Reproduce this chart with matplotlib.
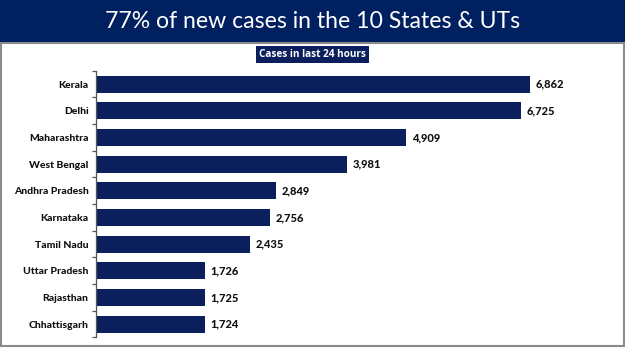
import matplotlib
matplotlib.use("Agg")
import matplotlib.pyplot as plt
from matplotlib.patches import Rectangle
import numpy as np

states = ["Kerala", "Delhi", "Maharashtra", "West Bengal", "Andhra Pradesh",
          "Karnataka", "Tamil Nadu", "Uttar Pradesh", "Rajasthan", "Chhattisgarh"]
cases = [6862, 6725, 4909, 3981, 2849, 2756, 2435, 1726, 1725, 1724]
title = "77% of new cases in the 10 States & UTs"
subtitle = "Cases in last 24 hours"

NAVY = "#0b1f5c"
W, H = 625, 351
fig = plt.figure(figsize=(W / 100, H / 100), dpi=100)
fig.patch.set_facecolor("white")

def fx(px):
    return px / W

def fy(py):
    return 1 - py / H

# Banner
fig.patches.append(Rectangle((0, fy(41.5)), 1, 41.5 / H, transform=fig.transFigure,
                             facecolor="#002060", edgecolor="none", zorder=0))
fig.patches.append(Rectangle((0, fy(43)), 1, 1.5 / H, transform=fig.transFigure,
                             facecolor="#d9a36a", edgecolor="none", zorder=0))
fig.text(0.5, fy(21), title, color="white", fontsize=16.6, family="Lato",
         ha="center", va="center")

# Gray frame
fig.patches.append(Rectangle((fx(1.5), fy(345.5)), fx(622.5), (345.5 - 43) / H,
                             transform=fig.transFigure, facecolor="none",
                             edgecolor="#8a8a8a", linewidth=1.5, zorder=1))

# Subtitle box
fig.text(fx(312.5), fy(54.5), subtitle, color="white", fontsize=7.2,
         family="Open Sans", fontweight="bold", ha="center", va="center",
         bbox=dict(boxstyle="square,pad=0.3", facecolor="#0b1f5c", edgecolor="none"))

# Axes
left, right = 95.5, 602.5
top, bottom = 70.7, 337.4
ax = fig.add_axes([fx(left), fy(bottom), fx(right - left), (bottom - top) / H])
ax.set_facecolor("none")
y = np.arange(len(states))
ax.barh(y, cases, height=0.64, color=NAVY, edgecolor="none")
ax.set_ylim(len(states) - 0.5, -0.5)
ax.set_xlim(0, 8016)
for s in ["top", "right", "bottom"]:
    ax.spines[s].set_visible(False)
ax.spines["left"].set_color("#555555")
ax.spines["left"].set_linewidth(0.9)
ax.set_xticks([])
ax.set_yticks(y)
ax.set_yticklabels(states, fontsize=7.5, fontweight=900, family="Lato", color="#111111")
ax.tick_params(axis="y", which="major", length=0, pad=5)
ax.set_yticks(np.arange(-0.5, len(states), 1), minor=True)
ax.tick_params(axis="y", which="minor", length=3, width=0.9, color="#555555")

for yi, v in zip(y, cases):
    ax.text(v + 90, yi, f"{v:,}", va="center", ha="left", fontsize=8,
            fontweight=900, family="Lato", color="#111111")

fig.savefig("out.png", dpi=100, facecolor="white")
